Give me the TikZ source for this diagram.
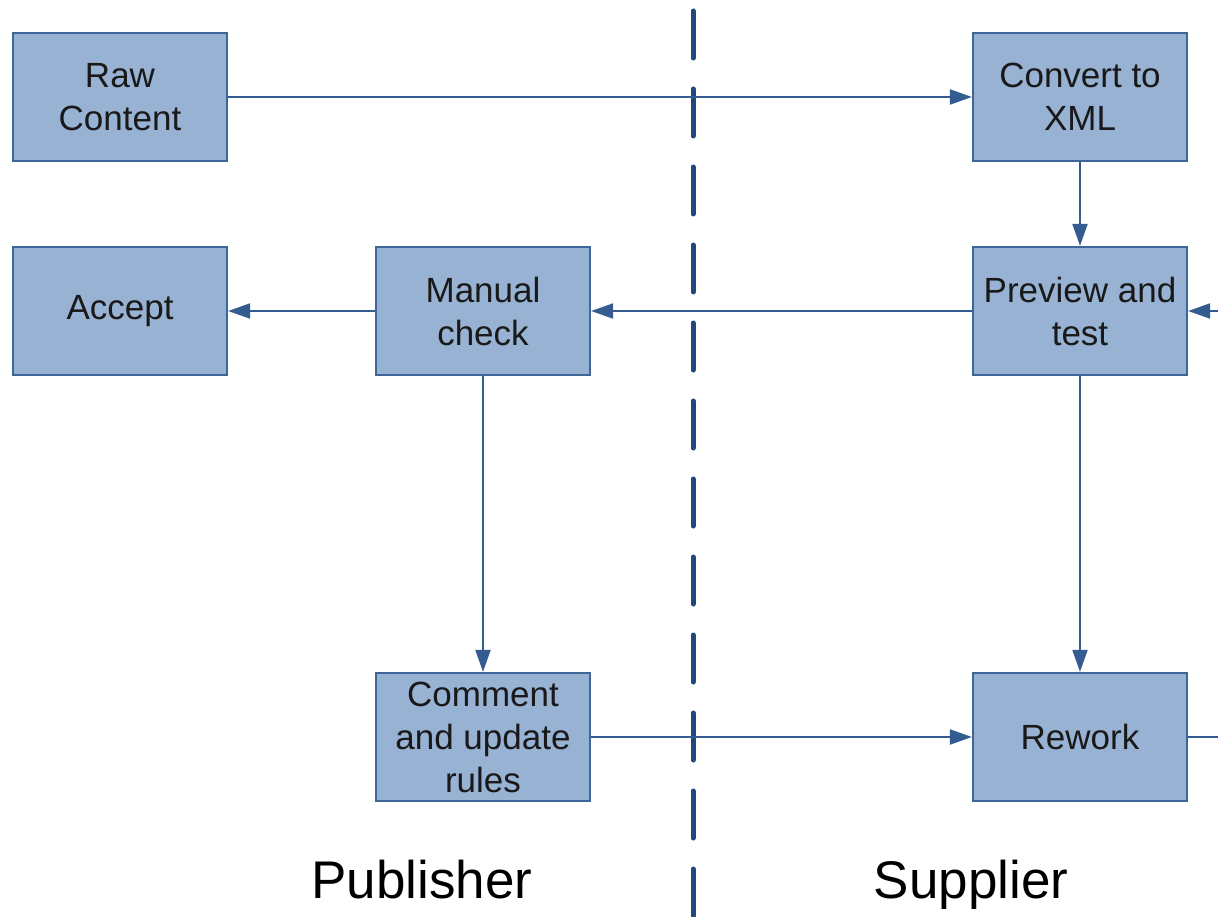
\documentclass[tikz,border=0pt]{standalone}
\usepackage{fontspec}
\setmainfont{Liberation Sans}
\usetikzlibrary{arrows.meta}
\definecolor{boxfill}{RGB}{152,178,212}
\definecolor{boxdraw}{RGB}{62,102,152}
\definecolor{linecol}{RGB}{52,92,145}
\definecolor{dashcol}{RGB}{31,73,125}
\tikzset{
  procbox/.style={draw=boxdraw, fill=boxfill, line width=2.2pt, minimum width=214pt, minimum height=128pt, align=center, inner sep=0pt, font=\fontsize{35}{43}\selectfont, text=black!90},
  conn/.style={draw=linecol, line width=2pt},
  arr/.style={conn, -{Triangle[length=22pt,width=15pt]}},
  lane/.style={font=\fontsize{53}{60}\selectfont, text=black, anchor=base}
}
\begin{document}
\begin{tikzpicture}[x=1pt,y=-1pt]
\useasboundingbox (0,0) rectangle (1218,917);
\node[procbox] (raw) at (120,97) {Raw\\Content};
\node[procbox] (conv) at (1080,97) {Convert to\\XML};
\node[procbox] (acc) at (120,311) {Accept};
\node[procbox] (man) at (483,311) {Manual\\check};
\node[procbox] (prev) at (1080,311) {Preview and\\test};
\node[procbox] (comm) at (483,737) {Comment\\and update\\rules};
\node[procbox] (rew) at (1080,737) {Rework};
\coordinate (outR) at (1218,737);
\coordinate (inR) at (1218,311);
\draw[dashcol, line width=5pt, line cap=round, dash pattern=on 47pt off 31pt] (693,11) -- (693,917);
\draw[arr] (raw) -- (conv);
\draw[arr] (conv) -- (prev);
\draw[arr] (prev) -- (man);
\draw[arr] (man) -- (acc);
\draw[arr] (man) -- (comm);
\draw[arr] (prev) -- (rew);
\draw[arr] (comm) -- (rew);
\draw[conn] (rew.east) -- (outR);
\draw[arr] (inR) -- (prev.east);
\node[lane] (pub) at (422,898) {Publisher};
\node[lane] (sup) at (971,898) {Supplier};
\end{tikzpicture}
\end{document}
